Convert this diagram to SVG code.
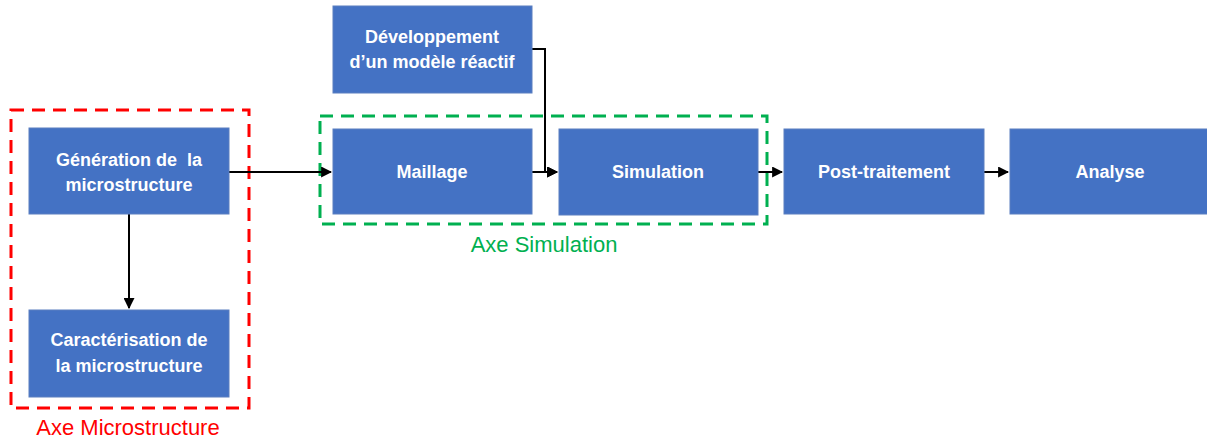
<svg xmlns="http://www.w3.org/2000/svg" width="1207" height="441" viewBox="0 0 1207 441">
<style>
.box{fill:#4472C4;stroke:#5B7FC0;stroke-width:1}
.t{font-family:"Liberation Sans",Arial,sans-serif;font-weight:bold;font-size:18px;fill:#fff;text-anchor:middle;white-space:pre}
.c{fill:none;stroke:#000;stroke-width:2}
.lbl{font-family:"Liberation Sans",Arial,sans-serif;font-size:22px;text-anchor:middle}
</style>
<defs>
<marker id="ah" viewBox="0 0 10 10" refX="9" refY="5" markerWidth="5.5" markerHeight="5.5" orient="auto" markerUnits="strokeWidth">
<path d="M0,0 L10,5 L0,10 z" fill="#000"/>
</marker>
</defs>
<rect width="1207" height="441" fill="#fff"/>
<g id="groups">
<rect x="11" y="110" width="238" height="298" fill="none" stroke="#FF0000" stroke-width="3" stroke-dasharray="13,8"/>
<text class="lbl" x="128" y="435" fill="#FF0000">Axe Microstructure</text>
<rect x="320" y="116" width="447" height="108" fill="none" stroke="#00B050" stroke-width="3" stroke-dasharray="13,8"/>
<text class="lbl" x="544" y="252" fill="#00B050">Axe Simulation</text>
</g>
<g id="connectors">
<line class="c" x1="229" y1="172" x2="331" y2="172" marker-end="url(#ah)"/>
<line class="c" x1="129" y1="214" x2="129" y2="308" marker-end="url(#ah)"/>
<line class="c" x1="532" y1="172" x2="557" y2="172" marker-end="url(#ah)"/>
<polyline class="c" points="532,49 545,49 545,172 557,172" marker-end="url(#ah)"/>
<line class="c" x1="758" y1="172" x2="782" y2="172" marker-end="url(#ah)"/>
<line class="c" x1="984" y1="172" x2="1008" y2="172" marker-end="url(#ah)"/>
</g>
<g id="gen">
<rect class="box" x="29" y="128" width="200" height="86"/>
<text class="t" x="129" y="166" xml:space="preserve">Génération de  la</text>
<text class="t" x="129" y="191">microstructure</text>
</g>
<g id="caract">
<rect class="box" x="29" y="310" width="200" height="87"/>
<text class="t" x="129" y="346">Caractérisation de</text>
<text class="t" x="129" y="372">la microstructure</text>
</g>
<g id="dev">
<rect class="box" x="333" y="6" width="199" height="87"/>
<text class="t" x="432" y="43">Développement</text>
<text class="t" x="432" y="68">d’un modèle réactif</text>
</g>
<g id="maillage">
<rect class="box" x="333" y="129" width="199" height="85"/>
<text class="t" x="432" y="178">Maillage</text>
</g>
<g id="simulation">
<rect class="box" x="559" y="129" width="199" height="86"/>
<text class="t" x="658" y="178">Simulation</text>
</g>
<g id="post">
<rect class="box" x="784" y="129" width="200" height="85"/>
<text class="t" x="884" y="178">Post-traitement</text>
</g>
<g id="analyse">
<rect class="box" x="1010" y="129" width="200" height="85"/>
<text class="t" x="1110" y="178">Analyse</text>
</g>
</svg>
